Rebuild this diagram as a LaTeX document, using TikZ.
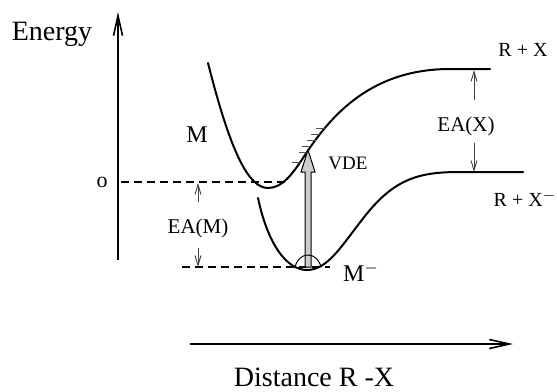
\documentclass[tikz,border=0pt]{standalone}
\usepackage{fontspec}
\setmainfont{Liberation Serif}
\usetikzlibrary{arrows.meta}

\begin{document}
\begin{tikzpicture}[x=0.5pt, y=-0.5pt,
    curve/.style={line width=1pt, line cap=round},
    axis/.style={line width=0.8pt, -{Straight Barb[length=10pt, width=4.5pt]}},
    lvl/.style={line width=0.65pt, dash pattern=on 4pt off 2.5pt},
    ea/.style={line width=0.45pt, draw=black!75, -{Straight Barb[length=5pt, width=3pt]}},
    hatch/.style={line width=0.5pt, draw=black!70},
    vde/.style={fill=gray!40, draw=black, line width=0.5pt, line join=miter},
    lbl/.style={font=\fontsize{10.5}{12}\selectfont, inner sep=2pt},
    big/.style={font=\fontsize{14}{16}\selectfont, inner sep=2pt}
  ]
  \useasboundingbox (0,0) rectangle (557,391);
  % axes
  \coordinate (ebot) at (118,260);
  \coordinate (etop) at (118,12);
  \draw[axis] (ebot) -- (etop);
  \node[big] (energy) at (52,34) {Energy};
  \coordinate (dleft) at (190,344);
  \coordinate (dright) at (513,344);
  \draw[axis] (dleft) -- (dright);
  \node[big] (dist) at (314,377) {Distance R -X};
  % levels
  \node[lbl, font=\fontsize{11}{12}\selectfont] (zero) at (102,182) {o};
  \coordinate (zeroend) at (285,182);
  \draw[lvl] (121,182) -- (zeroend);
  \coordinate (lowstart) at (182,267);
  \coordinate (lowend) at (330,267);
  \draw[lvl] (lowstart) -- (lowend);
  % neutral curve M
  \draw[curve] (208,63) .. controls (230,150) and (248,188) .. (268,188)
    .. controls (282,188) and (292,175) .. (305,155)
    .. controls (330,117) and (370,69) .. (450,69) -- (490,69);
  \foreach \y/\x in {128/325, 134/320, 140/315.5, 146/311, 152/307.5, 162/300.5}
    \draw[hatch] (\x-9,\y) -- (\x,\y);
  % anion curve M-
  \draw[curve] (258,198) .. controls (268,245) and (287,270) .. (307,270)
    .. controls (328,270) and (342,245) .. (365,216)
    .. controls (395,178) and (420,172) .. (460,172) -- (523,172);
  % vertical detachment
  \coordinate (vbot) at (308,267);
  \coordinate (vtip) at (308,150);
  \draw[vde] (vbot) ++(-3,0) -- ++(0,-95) -- ++(-4,0) -- (vtip)
    -- ++(7,22) -- ++(-4,0) -- ++(0,95) -- cycle;
  \draw[line width=0.5pt] (295,267) .. controls (299,251) and (317,251) .. (321,267);
  \node[lbl, font=\fontsize{9.5}{11}\selectfont] (vdel) at (348,163) {VDE};
  % labels
  \node[lbl, font=\fontsize{12}{14}\selectfont] (mlab) at (197,135) {M};
  \node[lbl, font=\fontsize{12}{14}\selectfont] (manion) at (361,272) {M$^{-}$};
  \node[lbl, font=\fontsize{10}{12}\selectfont] (rx) at (523,50) {R + X};
  \node[lbl, font=\fontsize{10}{12}\selectfont] (rxm) at (525,199) {R + X$^{-}$};
  % electron affinities
  \node[lbl] (eam) at (198,228) {EA(M)};
  \coordinate (eamhi) at (198,183);
  \coordinate (eamlo) at (198,267);
  \draw[ea, shorten <=6pt] (eam) -- (eamhi);
  \draw[ea, shorten <=3pt] (eam) -- (eamlo);
  \node[lbl] (eax) at (466,126) {EA(X)};
  \coordinate (eaxhi) at (474,70);
  \coordinate (eaxlo) at (474,172);
  \draw[ea, shorten <=6pt] (eax.north -| eaxhi) -- (eaxhi);
  \draw[ea, shorten <=1.5pt] (eax.south -| eaxlo) -- (eaxlo);
\end{tikzpicture}
\end{document}
